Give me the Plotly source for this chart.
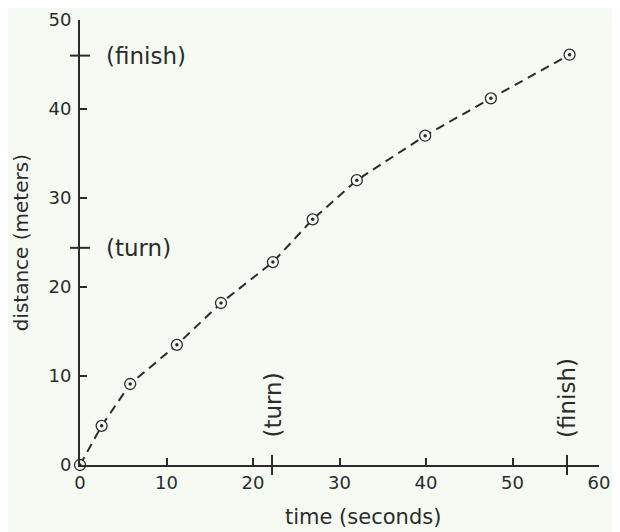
import plotly.graph_objects as go

# data
time_s = [0, 2.5, 5.8, 11.2, 16.3, 22.3, 26.9, 32.0, 39.9, 47.5, 56.6]
distance_m = [0, 4.4, 9.1, 13.5, 18.2, 22.8, 27.6, 32.0, 37.0, 41.2, 46.1]
x_ticks = [0, 10, 20, 30, 40, 50, 60]
y_ticks = [0, 10, 20, 30, 40, 50]
turn_time, finish_time = 22.2, 56.3
turn_dist, finish_dist = 24.4, 46.0

ink = "#2b2b2b"
bg = "#f5fbf3"
fam = "DejaVu Sans, sans-serif"
tick_font = dict(family=fam, size=18, color=ink)
note_font = dict(family=fam, size=23, color=ink)
title_font = dict(family=fam, size=21, color=ink)
ytitle_font = dict(family=fam, size=20, color=ink)

fig = go.Figure()
fig.add_trace(go.Scatter(
    x=time_s, y=distance_m, mode="lines",
    line=dict(color=ink, width=2, dash="9px,6px"),
    cliponaxis=False, hoverinfo="skip"))
fig.add_trace(go.Scatter(
    x=time_s, y=distance_m, mode="markers",
    marker=dict(symbol="circle", size=11, color=bg, line=dict(color=ink, width=1.3)),
    cliponaxis=False))
fig.add_trace(go.Scatter(
    x=time_s, y=distance_m, mode="markers",
    marker=dict(symbol="circle", size=3.5, color=ink),
    cliponaxis=False))

# crossing ticks for turn / finish
for d in (turn_dist, finish_dist):
    fig.add_shape(type="line", xref="paper", yref="y", xsizemode="pixel", xanchor=0,
                  x0=-10, x1=10, y0=d, y1=d, line=dict(color=ink, width=2))
for t in (turn_time, finish_time):
    fig.add_shape(type="line", xref="x", yref="paper", ysizemode="pixel", yanchor=0,
                  y0=-10, y1=10, x0=t, x1=t, line=dict(color=ink, width=2))

fig.add_annotation(x=0, y=finish_dist, xref="x", yref="y", text="(finish)", showarrow=False,
                   xanchor="left", xshift=24, font=note_font)
fig.add_annotation(x=0, y=turn_dist, xref="x", yref="y", text="(turn)", showarrow=False,
                   xanchor="left", xshift=24, font=note_font)
fig.add_annotation(x=turn_time, y=0, xref="x", yref="y", text="(turn)", showarrow=False,
                   textangle=-90, yanchor="bottom", yshift=25, font=note_font)
fig.add_annotation(x=finish_time, y=0, xref="x", yref="y", text="(finish)", showarrow=False,
                   textangle=-90, yanchor="bottom", yshift=25, font=note_font)
fig.add_annotation(x=0.545, y=-0.117, xref="paper", yref="paper", text="time (seconds)",
                   showarrow=False, font=title_font, xanchor="center", yanchor="middle")
fig.add_annotation(x=-0.114, y=0.5, xref="paper", yref="paper", text="distance (meters)",
                   showarrow=False, font=ytitle_font, textangle=-90,
                   xanchor="center", yanchor="middle")

fig.update_layout(
    width=620, height=532,
    margin=dict(l=72, r=29, t=12, b=75),
    paper_bgcolor=bg, plot_bgcolor=bg,
    showlegend=False,
    xaxis=dict(range=[0, 60], tickvals=x_ticks, ticks="inside", ticklen=7, tickwidth=1.5,
               tickcolor=ink, showline=True, linecolor=ink, linewidth=2, showgrid=False,
               zeroline=False, tickfont=tick_font, automargin=False),
    yaxis=dict(range=[0, 50], tickvals=y_ticks, ticks="inside", ticklen=7, tickwidth=1.5,
               tickcolor=ink, showline=True, linecolor=ink, linewidth=2, showgrid=False,
               zeroline=False, tickfont=tick_font, automargin=False, ticklabelstandoff=3),
)

fig.write_html("out.html")
